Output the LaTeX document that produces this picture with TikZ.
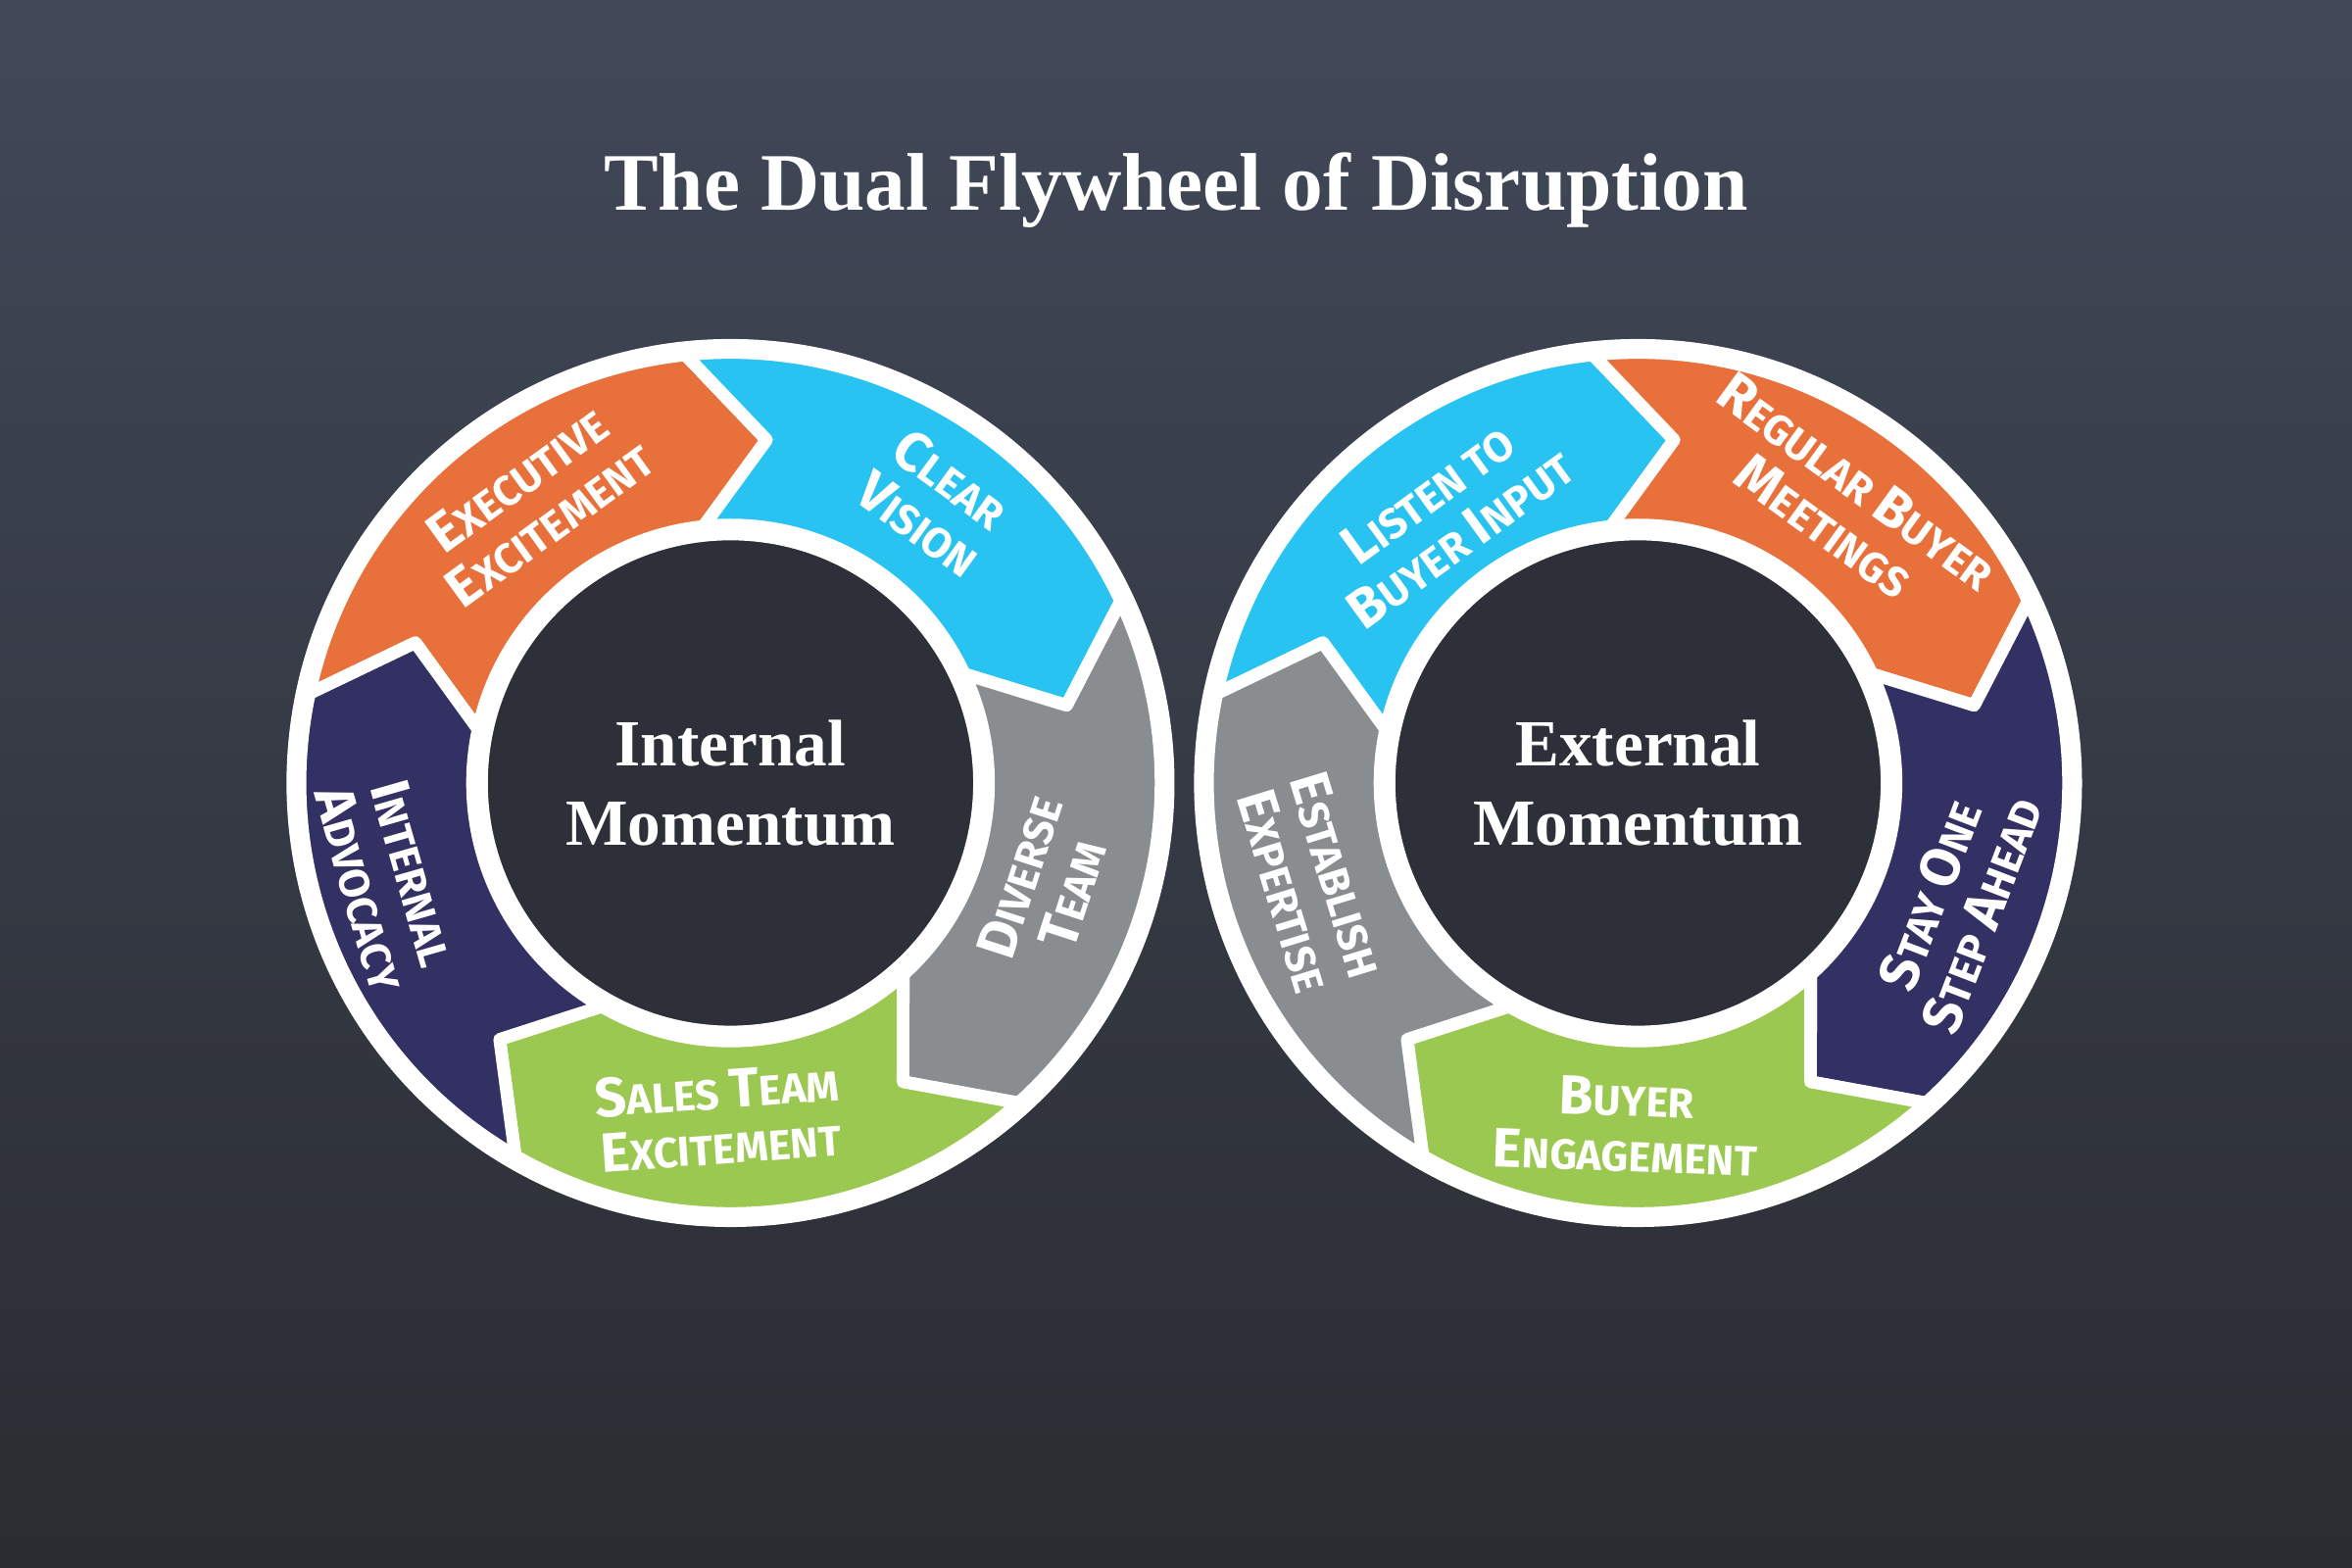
\documentclass[tikz,border=0pt]{standalone}
\usepackage{fontspec}
\setmainfont{Liberation Serif}
\setsansfont{Fira Sans}
\definecolor{wOrange}{HTML}{E8703A}
\definecolor{wBlue}{HTML}{29C3F1}
\definecolor{wGray}{HTML}{8A8D8F}
\definecolor{wGreen}{HTML}{9BC850}
\definecolor{wNavy}{HTML}{333064}
\definecolor{bgTop}{HTML}{414858}
\definecolor{bgBot}{HTML}{2A2C31}
\definecolor{hubDark}{HTML}{2D3038}
\newcommand\sclet[1]{{\fontsize{10.5}{10.5}\selectfont #1}}
% one arrow-shaped slice of a wheel: start angle, end angle, colour
\newcommand\slice[3]{%
  \fill[#3, draw=white, line width=2.4pt, line join=round]
    (#1:2.87) arc[start angle=#1, end angle=#2, radius=2.87]
    -- ({#2-12}:2.3) -- (#2:1.72)
    arc[start angle=#2, end angle=#1, radius=1.72]
    -- ({#1-12}:2.3) -- cycle;}
\tikzset{
  ringbase/.style={fill=white},
  hub/.style={fill=hubDark, draw=white, line width=2.4pt},
  hublabel/.style={text=white, align=center, font=\bfseries\fontsize{12.5}{15}\selectfont},
  slicelabel/.style={text=white, align=center, inner sep=1pt,
    font=\sffamily\bfseries\fontsize{8}{10.5}\selectfont}
}
\begin{document}
\begin{tikzpicture}
\shade[top color=bgTop, bottom color=bgBot] (0,0) rectangle (15.68,10.45);
\useasboundingbox (0,0) rectangle (15.68,10.45);

\node[text=white, font=\bfseries\fontsize{15.5}{18}\selectfont] (title) at (7.84,9.18) {The Dual Flywheel of Disruption};

% left wheel
\begin{scope}[shift={(4.87,5.23)}]
  \fill[ringbase] (0,0) circle (2.96);
  \slice{168}{96}{wOrange}
  \slice{96}{25}{wBlue}
  \slice{25}{-48}{wGray}
  \slice{-48}{-120}{wGreen}
  \slice{240}{168}{wNavy}
  \filldraw[hub] (0,0) circle (1.66);
  \node[hublabel] (inner) at (0,0) {Internal\\Momentum};
  \node[slicelabel, rotate=36] (exec) at (125:2.29) {\sclet{E}XECUTIVE\\\sclet{E}XCITEMENT};
  \node[slicelabel, rotate=-36] (vision) at (54:2.32) {\sclet{C}LEAR\\\sclet{V}ISION};
  \node[slicelabel, rotate=72] (diverse) at (-18:2.21) {\sclet{D}IVERSE\\\sclet{T}EAM};
  \node[slicelabel, rotate=4] (sales) at (-92:2.23) {\sclet{S}ALES \sclet{T}EAM\\\sclet{E}XCITEMENT};
  \node[slicelabel, rotate=-74] (advocacy) at (196:2.38) {\sclet{I}NTERNAL\\\sclet{A}DVOCACY};
\end{scope}

% right wheel
\begin{scope}[shift={(10.92,5.23)}]
  \fill[ringbase] (0,0) circle (2.96);
  \slice{168}{96}{wBlue}
  \slice{96}{25}{wOrange}
  \slice{25}{-48}{wNavy}
  \slice{-48}{-120}{wGreen}
  \slice{240}{168}{wGray}
  \filldraw[hub] (0,0) circle (1.66);
  \node[hublabel] (outer) at (0,0) {External\\Momentum};
  \node[slicelabel, rotate=36] (listen) at (126:2.2) {\sclet{L}ISTEN TO\\\sclet{B}UYER \sclet{I}NPUT};
  \node[slicelabel, rotate=-36] (meetings) at (54:2.3) {\sclet{R}EGULAR \sclet{B}UYER\\\sclet{M}EETINGS};
  \node[slicelabel, rotate=69] (ahead) at (-21:2.27) {\sclet{S}TAY \sclet{O}NE\\\sclet{S}TEP \sclet{A}HEAD};
  \node[slicelabel, rotate=-2] (engage) at (-92:2.28) {\sclet{B}UYER\\\sclet{E}NGAGEMENT};
  \node[slicelabel, rotate=-73] (expertise) at (197:2.28) {\sclet{E}STABLISH\\\sclet{E}XPERTISE};
\end{scope}
\end{tikzpicture}
\end{document}
